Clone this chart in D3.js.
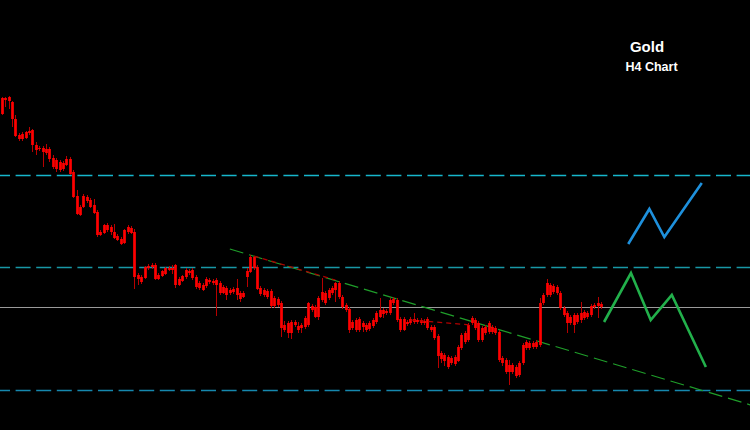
<!DOCTYPE html>
<html><head><meta charset="utf-8">
<script src="https://cdn.jsdelivr.net/npm/d3@7/dist/d3.min.js"></script>
<style>html,body{margin:0;padding:0;background:#000;}svg{display:block;}</style>
</head><body>
<svg id="chart" width="750" height="430"></svg>
<script>
// ---- Data (Gold H4 candles, price units) ----
const opens = [
1390.2,1390.0,1389.9,1389.8,1388.1,1386.5,1386.1,1386.2,1386.7,1387.0,
1385.5,1385.2,1385.2,1385.1,1385.1,1384.2,1384.0,1383.8,1383.1,1383.5,
1384.1,1382.8,1380.4,1379.3,1379.3,1379.9,1380.0,1379.5,1378.8,1376.8,
1376.7,1377.0,1377.3,1376.8,1376.4,1376.1,1375.7,1376.8,1377.2,1376.8,
1372.5,1372.3,1372.2,1373.2,1373.3,1373.5,1372.5,1372.4,1372.6,1373.0,
1373.2,1373.5,1371.5,1371.9,1372.3,1372.9,1373.0,1372.3,1371.7,1371.5,
1371.4,1371.8,1371.9,1372.0,1371.7,1370.7,1371.2,1370.7,1370.8,1371.2,
1370.7,1370.3,1372.3,1372.8,1373.2,1373.3,1371.2,1371.0,1370.9,1370.9,
1369.4,1370.1,1369.7,1367.5,1367.7,1366.7,1367.5,1367.4,1367.2,1367.3,
1367.5,1369.0,1369.3,1368.3,1370.0,1370.7,1370.2,1370.7,1371.0,1371.7,
1370.3,1369.5,1369.1,1367.2,1368.0,1367.0,1367.7,1367.5,1367.1,1367.4,
1367.8,1368.3,1369.0,1368.7,1368.7,1369.7,1370.0,1368.1,1367.0,1367.8,
1367.7,1367.8,1368.0,1368.0,1367.7,1368.1,1367.3,1367.3,1366.4,1364.7,
1364.5,1364.3,1363.7,1364.3,1363.9,1365.2,1365.8,1366.0,1367.7,1368.0,
1367.7,1366.0,1366.7,1366.8,1367.3,1367.2,1366.8,1364.2,1364.0,1363.5,
1362.8,1363.3,1362.5,1363.7,1365.2,1365.7,1365.3,1365.3,1365.5,1369.7,
1370.5,1371.5,1370.8,1371.3,1370.7,1369.2,1368.7,1367.7,1368.5,1367.8,
1368.0,1368.2,1368.7,1368.5,1369.3,1369.4,1369.6];
const highs = [
1390.3,1390.3,1390.4,1389.9,1388.5,1386.7,1386.8,1386.9,1387.3,1387.1,
1385.8,1385.4,1385.4,1385.6,1385.3,1384.5,1384.2,1384.0,1383.9,1384.4,
1384.3,1383.0,1381.0,1379.5,1380.6,1380.5,1380.2,1380.1,1379.0,1377.0,
1377.6,1377.7,1377.5,1377.6,1376.6,1376.3,1377.1,1377.5,1377.4,1377.1,
1372.7,1372.5,1373.4,1373.6,1373.7,1373.7,1372.7,1373.0,1373.3,1373.4,
1373.5,1373.6,1372.3,1372.5,1373.2,1373.1,1373.2,1372.5,1371.9,1371.7,
1372.3,1372.2,1372.1,1372.2,1371.9,1371.5,1371.4,1371.2,1371.3,1372.1,
1370.9,1370.9,1373.2,1374.5,1374.4,1373.5,1371.4,1371.2,1371.1,1371.1,
1370.4,1370.3,1369.9,1367.9,1367.9,1368.0,1368.0,1367.8,1367.7,1368.4,
1369.8,1369.6,1369.5,1370.4,1372.2,1370.9,1371.2,1371.4,1371.8,1371.9,
1370.5,1369.7,1369.3,1368.0,1368.2,1368.3,1367.9,1367.7,1367.9,1368.2,
1368.9,1370.2,1369.2,1369.1,1370.2,1370.3,1370.2,1368.3,1368.3,1368.0,
1368.3,1368.7,1368.2,1368.2,1368.1,1368.3,1367.5,1367.5,1366.6,1364.9,
1364.7,1364.5,1364.4,1364.5,1365.5,1366.7,1366.9,1367.7,1368.4,1368.2,
1367.9,1367.4,1367.5,1367.9,1367.5,1367.4,1367.0,1364.4,1364.2,1364.0,
1363.7,1363.5,1363.9,1365.7,1366.0,1365.9,1365.9,1366.0,1370.2,1370.7,
1372.1,1371.7,1371.6,1371.5,1370.9,1369.4,1368.9,1368.5,1368.7,1368.7,
1369.8,1369.0,1368.9,1369.6,1369.7,1370.3,1369.8];
const lows = [
1388.5,1389.3,1389.1,1387.3,1386.3,1385.9,1385.9,1386.1,1386.5,1384.8,
1384.5,1384.9,1383.3,1384.5,1383.8,1383.1,1382.8,1382.8,1382.9,1383.4,
1382.5,1380.2,1378.5,1378.4,1379.2,1379.7,1379.2,1378.6,1376.3,1376.4,
1376.6,1376.8,1376.5,1376.1,1375.9,1375.5,1375.6,1376.6,1376.6,1371.1,
1371.5,1371.6,1372.1,1373.0,1373.1,1372.0,1372.0,1372.3,1372.5,1372.9,
1372.6,1371.2,1371.4,1371.8,1372.1,1372.5,1372.0,1371.1,1371.0,1370.9,
1371.2,1371.6,1371.5,1368.4,1370.5,1370.6,1370.0,1370.5,1370.6,1370.0,
1369.8,1370.2,1371.3,1372.7,1373.0,1371.0,1370.4,1370.3,1370.1,1369.2,
1369.2,1369.3,1366.3,1366.8,1366.2,1366.1,1367.3,1366.7,1366.7,1367.1,
1367.3,1368.8,1368.2,1368.0,1369.8,1369.5,1370.0,1370.5,1369.8,1370.1,
1369.1,1368.8,1366.7,1367.0,1366.8,1366.8,1366.8,1366.8,1366.9,1367.2,
1367.6,1368.2,1368.2,1368.5,1368.5,1369.5,1367.8,1366.8,1366.9,1367.4,
1367.5,1367.6,1367.6,1367.5,1367.5,1367.0,1366.8,1366.0,1363.2,1363.7,
1363.4,1363.1,1363.5,1363.4,1363.8,1365.0,1365.6,1365.8,1367.5,1367.0,
1365.8,1365.8,1366.5,1366.6,1366.6,1366.5,1363.8,1363.4,1362.6,1361.5,
1362.6,1362.2,1362.3,1363.5,1365.0,1365.0,1365.1,1365.1,1365.3,1369.5,
1370.3,1370.3,1370.6,1370.5,1369.0,1368.3,1366.7,1367.5,1366.7,1367.6,
1367.7,1368.0,1368.1,1368.3,1369.1,1368.2,1369.1];
const closes = [
1388.6,1390.2,1390.3,1388.1,1386.4,1386.1,1386.6,1386.8,1386.9,1385.5,
1385.0,1385.1,1384.8,1384.7,1384.1,1383.3,1383.1,1383.0,1383.7,1384.1,
1382.6,1380.3,1378.6,1378.5,1380.4,1380.3,1379.3,1378.7,1376.5,1376.5,
1377.5,1377.5,1376.8,1376.2,1376.0,1375.6,1377.0,1377.3,1376.7,1372.3,
1372.1,1371.8,1373.3,1373.4,1373.5,1372.1,1372.1,1372.9,1373.2,1373.2,
1373.0,1371.5,1372.1,1372.4,1373.0,1372.7,1372.2,1371.3,1371.2,1371.0,
1372.1,1372.0,1371.7,1371.5,1370.7,1371.3,1370.5,1371.0,1371.1,1370.5,
1370.1,1370.7,1372.9,1374.3,1374.3,1371.1,1370.6,1370.5,1370.3,1369.4,
1370.2,1369.5,1367.2,1367.0,1366.7,1367.8,1367.8,1367.0,1367.5,1368.2,
1369.7,1369.4,1368.3,1370.2,1370.8,1369.7,1371.0,1371.2,1371.7,1370.3,
1369.3,1369.0,1367.0,1367.8,1367.0,1368.1,1367.3,1367.0,1367.7,1368.0,
1368.7,1369.0,1368.6,1368.9,1370.0,1370.1,1368.0,1367.0,1368.1,1367.6,
1368.1,1368.1,1367.8,1367.7,1367.9,1367.2,1367.0,1366.2,1364.4,1364.1,
1363.9,1363.3,1364.2,1363.6,1365.3,1366.5,1366.7,1367.5,1368.2,1367.2,
1366.0,1367.2,1367.3,1367.7,1366.8,1366.7,1364.0,1363.7,1362.8,1362.8,
1363.5,1362.4,1363.7,1365.5,1365.8,1365.2,1365.7,1365.8,1369.7,1370.5,
1371.7,1370.5,1371.4,1370.7,1369.2,1368.5,1367.7,1368.3,1367.5,1368.5,
1368.7,1368.8,1368.3,1369.4,1369.5,1369.7,1369.3];

// horizontal levels
const resistanceLevels = [1382.5, 1373.3, 1361.0];
const pivotLevel = 1369.3;

// trendline and annotation paths: [bar index, price]
const trendline = [[67, 1375.1], [220, 1359.5]];
const redTrend1 = [[73, 1374.5], [98, 1372.0]];
const redTrend2 = [[120, 1368.0], [138, 1367.5]];
const bullishPath = [[184.0, 1375.6], [190.2, 1379.1], [194.6, 1376.3], [205.6, 1381.7]];
const bearishPath = [[176.9, 1367.8], [184.8, 1372.7], [190.6, 1368.0], [196.8, 1370.5], [206.8, 1363.3]];

const titleText = "Gold";
const subtitleText = "H4 Chart";

// ---- Drawing ----
const W = 750, H = 430;
const svg = d3.select("#chart");
svg.append("rect").attr("width", W).attr("height", H).attr("fill", "#000");

const n = closes.length;
const x = d3.scaleLinear().domain([0, n - 1]).range([1.7, 601]);
const y = d3.scaleLinear().domain([1400, 1357]).range([0, H]);

const candles = d3.range(n).map(i => ({i, o: opens[i], h: highs[i], l: lows[i], c: closes[i]}));

// horizontal dashed levels
const levelColors = ["#17b6cc", "#1898a6", "#1688ae"];
svg.selectAll("line.level").data(resistanceLevels).join("line")
  .attr("class", "level")
  .attr("x1", 0).attr("x2", W)
  .attr("y1", d => Math.round(y(d)) + 0.5).attr("y2", d => Math.round(y(d)) + 0.5)
  .attr("stroke", (d, k) => levelColors[k]).attr("stroke-width", 1.3)
  .attr("stroke-dasharray", "15,5.6").attr("stroke-dashoffset", 5);

// pivot gray line
svg.append("line")
  .attr("x1", 0).attr("x2", W)
  .attr("y1", Math.round(y(pivotLevel)) + 0.5).attr("y2", Math.round(y(pivotLevel)) + 0.5)
  .attr("stroke", "#9a9a9a").attr("stroke-width", 1.2);

const line = d3.line().x(d => x(d[0])).y(d => y(d[1]));

// green dashed trendline
svg.append("path").attr("d", line(trendline))
  .attr("fill", "none").attr("stroke", "#1f9e2a").attr("stroke-width", 1.2)
  .attr("stroke-dasharray", "14,6");

// wicks
svg.append("g").selectAll("line").data(candles).join("line")
  .attr("x1", d => Math.round(x(d.i)) + 0.5).attr("x2", d => Math.round(x(d.i)) + 0.5)
  .attr("y1", d => y(d.h)).attr("y2", d => y(d.l))
  .attr("stroke", "#b80000").attr("stroke-width", 1);

// bodies
const bw = 2.7;
svg.append("g").selectAll("rect").data(candles).join("rect")
  .attr("x", d => Math.round(x(d.i)) + 0.5 - bw / 2)
  .attr("width", bw)
  .attr("y", d => y(Math.max(d.o, d.c)))
  .attr("height", d => Math.max(1, Math.abs(y(d.o) - y(d.c))))
  .attr("fill", "#ff0000");

// red dashed trend segments
[redTrend1, redTrend2].forEach((seg, k) => {
  svg.append("path").attr("d", line(seg))
    .attr("fill", "none").attr("stroke", "#b00000").attr("stroke-width", 1.2)
    .attr("stroke-dasharray", "5,4").attr("stroke-dashoffset", k === 0 ? 14 : 0);
});

// projection paths
svg.append("path").attr("d", line(bullishPath))
  .attr("fill", "none").attr("stroke", "#1e90dc").attr("stroke-width", 2.6)
  .attr("stroke-linejoin", "miter");
svg.append("path").attr("d", line(bearishPath))
  .attr("fill", "none").attr("stroke", "#22b04b").attr("stroke-width", 2.6)
  .attr("stroke-linejoin", "miter");

// titles
svg.append("text").attr("x", 647).attr("y", 52).attr("text-anchor", "middle")
  .attr("fill", "#fff").attr("font-family", "Liberation Sans, Arial, sans-serif")
  .attr("font-weight", "bold").attr("font-size", 15).text(titleText);
svg.append("text").attr("x", 651.5).attr("y", 71).attr("text-anchor", "middle")
  .attr("fill", "#fff").attr("font-family", "Liberation Sans, Arial, sans-serif")
  .attr("font-weight", "bold").attr("font-size", 12.5).text(subtitleText);
</script>
</body></html>
